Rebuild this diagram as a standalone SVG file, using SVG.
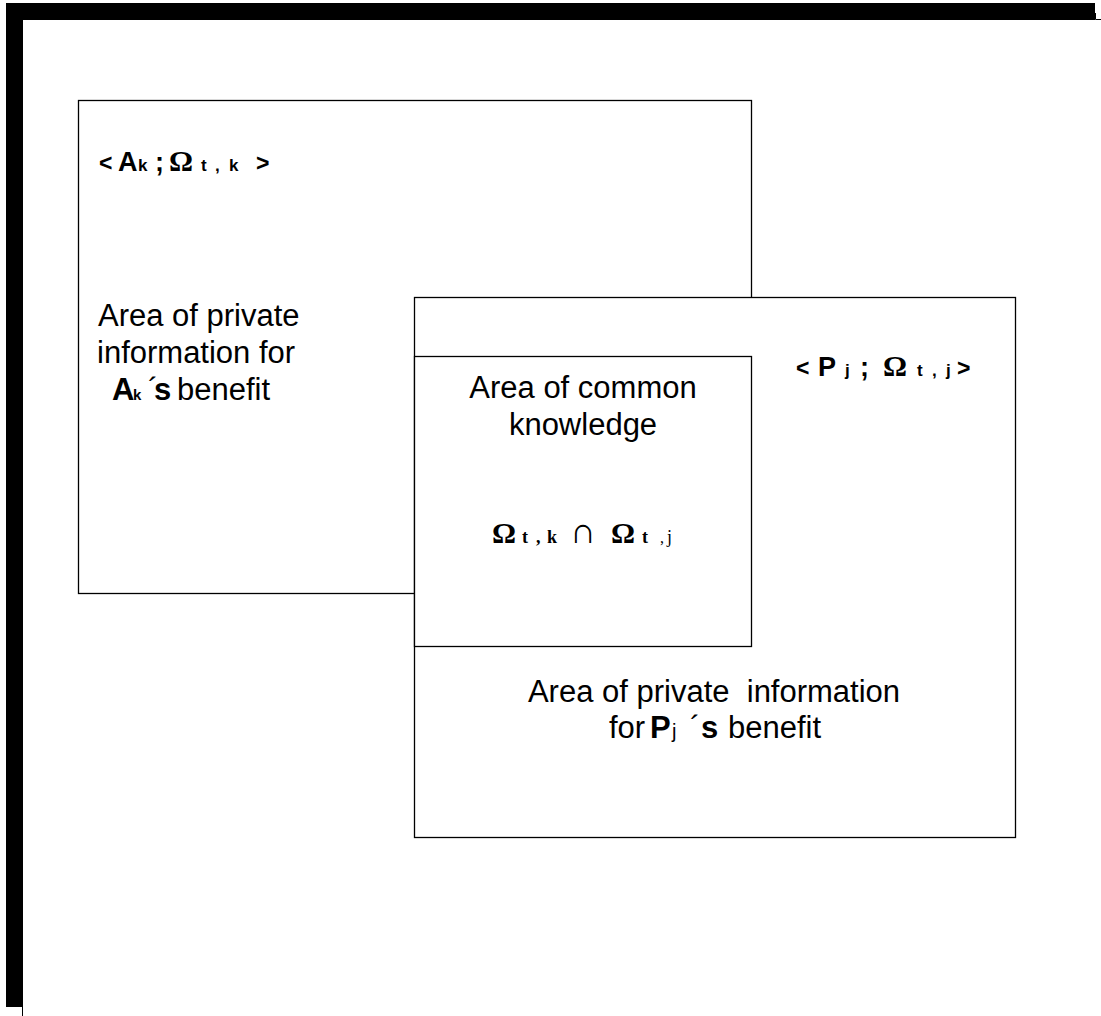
<svg xmlns="http://www.w3.org/2000/svg" width="1101" height="1016" viewBox="0 0 1101 1016">
<style>
.box{fill:#fff;stroke:#000;stroke-width:1.3}
.ln{fill:none;stroke:#000;stroke-width:1}
.t{font-family:"Liberation Sans",Arial,sans-serif;font-size:31px;fill:#000}
.h{font-family:"Liberation Sans",Arial,sans-serif;font-size:27px;font-weight:bold;fill:#000}
.s{font-size:17px}
.lt{font-size:23px}
.om{font-family:"Liberation Serif","Times New Roman",serif;font-weight:bold}
.b{font-weight:bold}
</style>
<rect x="0" y="0" width="1101" height="1016" fill="#fff"/>
<g id="page-frame">
<rect x="6" y="3" width="1089" height="17" fill="#000"/>
<rect x="6" y="3" width="17" height="1004" fill="#000"/>
<path class="ln" d="M1095.5,13 V19.5 H1101 M22.5,1007 V1016"/>
</g>
<g id="node-A">
<rect class="box" x="78.5" y="100.5" width="673" height="493"/>
<text class="h" y="171"><tspan x="99" class="lt">&lt;</tspan><tspan x="118">A</tspan><tspan x="138" class="s">k</tspan><tspan x="155">;</tspan><tspan x="169" class="om" font-size="30">Ω</tspan><tspan x="201" class="s">t</tspan><tspan x="215" class="s">,</tspan><tspan x="229" class="s">k</tspan><tspan x="256" class="lt">&gt;</tspan></text>
<text class="t" x="98" y="326">Area of private</text>
<text class="t" x="97" y="363">information for</text>
<text class="t" y="400"><tspan x="112" class="b">A</tspan><tspan x="133" font-size="15" class="b">k</tspan><tspan x="148">´</tspan><tspan x="154" class="b">s</tspan><tspan x="177">benefit</tspan></text>
</g>
<g id="node-P">
<rect class="box" x="414.5" y="297.5" width="601" height="540"/>
<text class="h" y="376"><tspan x="796" class="lt">&lt;</tspan><tspan x="818">P</tspan><tspan x="845" class="s">j</tspan><tspan x="860">;</tspan><tspan x="883" class="om" font-size="30">Ω</tspan><tspan x="917" class="s">t</tspan><tspan x="932" class="s">,</tspan><tspan x="946" class="s">j</tspan><tspan x="957" class="lt">&gt;</tspan></text>
<text class="t" x="714" y="702" text-anchor="middle" xml:space="preserve" style="white-space:pre">Area of private  information</text>
<text class="t" y="738"><tspan x="609">for</tspan><tspan x="650" class="b">P</tspan><tspan x="672" font-size="20">j</tspan><tspan x="690">´</tspan><tspan x="701" class="b">s</tspan><tspan x="728">benefit</tspan></text>
</g>
<g id="node-common">
<rect class="box" x="414.5" y="356.5" width="337" height="290"/>
<text class="t" x="583" y="398" text-anchor="middle">Area of common</text>
<text class="t" x="583" y="435" text-anchor="middle">knowledge</text>
<text y="543" font-family="Liberation Serif,'Times New Roman',serif" fill="#000"><tspan x="492" font-size="30" font-weight="bold">Ω</tspan><tspan x="522" font-size="18" font-weight="bold">t</tspan><tspan x="536" font-size="18" font-weight="bold">,</tspan><tspan x="547" font-size="18" font-weight="bold">k</tspan><tspan x="570" font-size="36">∩</tspan><tspan x="611" font-size="30" font-weight="bold">Ω</tspan><tspan x="642" font-size="18" font-weight="bold">t</tspan><tspan x="660" font-size="16">,</tspan><tspan x="667" font-size="18">j</tspan></text>
</g>
<g id="connectors"></g>
</svg>
